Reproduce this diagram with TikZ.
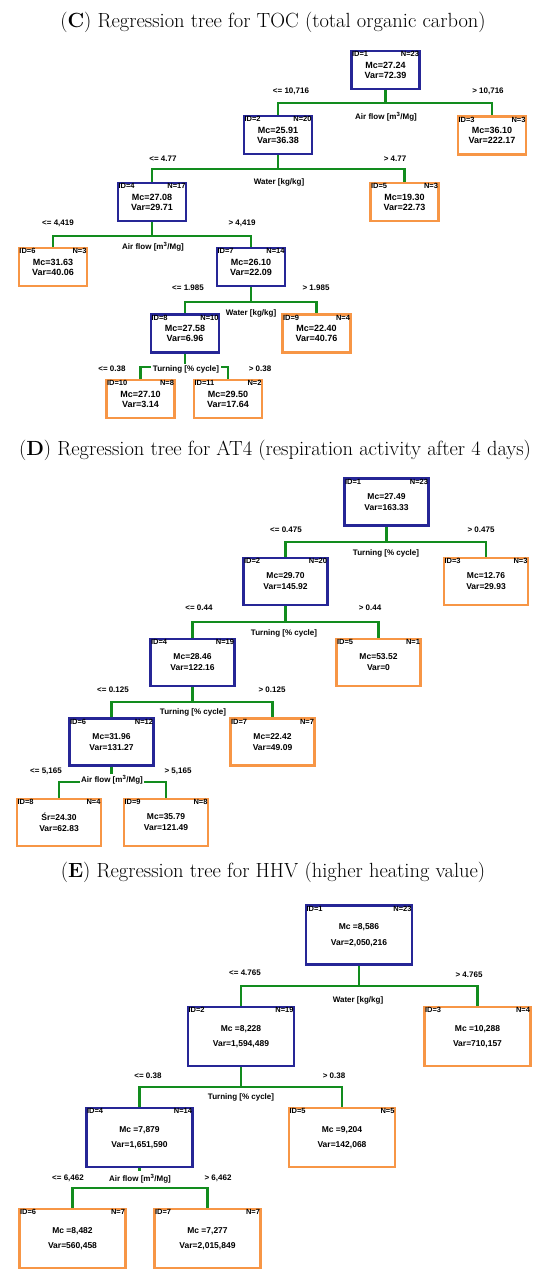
\documentclass[tikz,border=0pt]{standalone}
\usepackage{fontspec}
\setsansfont{Liberation Sans}
\usepackage{xcolor}
\usepackage{tikz}

\definecolor{treeblue}{RGB}{38,38,150}
\definecolor{treeorange}{RGB}{247,150,70}
\definecolor{treegreen}{RGB}{18,140,30}

\begin{document}
\begin{tikzpicture}[
                x=1pt, y=-1pt,
                innerbox/.style={rectangle, draw=treeblue, line width=2.2pt, fill=white, align=center, inner sep=0pt},
                leafbox/.style={innerbox, draw=treeorange},
                ctree/.style={minimum width=68pt, minimum height=38pt, font=\sffamily\bfseries\fontsize{9}{10}\selectfont, execute at begin node={\rule{0pt}{16pt}}},
                dtree/.style={minimum width=84pt, minimum height=47pt, font=\sffamily\bfseries\fontsize{8.5}{11}\selectfont, execute at begin node={\rule{0pt}{17pt}}},
                etree/.style={minimum width=106pt, minimum height=59pt, font=\sffamily\bfseries\fontsize{8.5}{15.5}\selectfont, execute at begin node={\rule{0pt}{22pt}}},
                idlab/.style={inner sep=1.4pt, font=\sffamily\bfseries\fontsize{7.5}{8}\selectfont},
                idn/.style 2 args={label={[idlab, anchor=north west]north west:ID=#1}, label={[idlab, anchor=north east]north east:N=#2}},
                branch/.style={draw=treegreen, line width=2.2pt},
                cutlab/.style={inner sep=1pt, font=\sffamily\bfseries\fontsize{8}{9}\selectfont},
                featlab/.style={cutlab, fill=white, inner sep=1.5pt},
                headline/.style={anchor=base, font=\fontsize{20.5}{22}\selectfont}
                ]
                \useasboundingbox (0,0) rectangle (550,1284);

                % Titles
                \node[headline] (tc) at (273,28) {(\textbf{C}) Regression tree for TOC (total organic carbon)};
                \node[headline] (td) at (275,455) {(\textbf{D}) Regression tree for AT4 (respiration activity after 4 days)};
                \node[headline] (te) at (273,877) {(\textbf{E}) Regression tree for HHV (higher heating value)};

                % Tree C - nodes
                \node[innerbox, ctree, idn={1}{23}] (c1) at (385.5,70) {Mc=27.24\\Var=72.39};
                \node[innerbox, ctree, idn={2}{20}] (c2) at (278,135) {Mc=25.91\\Var=36.38};
                \node[leafbox, ctree, idn={3}{3}] (c3) at (492,135.5) {Mc=36.10\\Var=222.17};
                \node[innerbox, ctree, idn={4}{17}] (c4) at (152,202) {Mc=27.08\\Var=29.71};
                \node[leafbox, ctree, idn={5}{3}] (c5) at (404.5,202) {Mc=19.30\\Var=22.73};
                \node[leafbox, ctree, idn={6}{3}] (c6) at (53,267) {Mc=31.63\\Var=40.06};
                \node[innerbox, ctree, idn={7}{14}] (c7) at (251,267) {Mc=26.10\\Var=22.09};
                \node[innerbox, ctree, idn={8}{10}] (c8) at (185,333.5) {Mc=27.58\\Var=6.96};
                \node[leafbox, ctree, idn={9}{4}] (c9) at (316.5,333.5) {Mc=22.40\\Var=40.76};
                \node[leafbox, ctree, idn={10}{8}] (c10) at (140.5,399) {Mc=27.10\\Var=3.14};
                \node[leafbox, ctree, idn={11}{2}] (c11) at (228,399) {Mc=29.50\\Var=17.64};

                % Tree C - splits
                \coordinate (c1s) at (385.5,103);
                \coordinate (c2s) at (278,169);
                \coordinate (c4s) at (152,236);
                \coordinate (c7s) at (251,302);
                \coordinate (c8s) at (185,367);
                \draw[branch] (c1) -- (c1s);
                \draw[branch] (c2) |- (c1s) -| (c3);
                \draw[branch] (c2) -- (c2s);
                \draw[branch] (c4) |- (c2s) -| (c5);
                \draw[branch] (c4) -- (c4s);
                \draw[branch] (c6) |- (c4s) -| (c7);
                \draw[branch] (c7) -- (c7s);
                \draw[branch] (c8) |- (c7s) -| (c9);
                \draw[branch] (c8) -- (c8s);
                \draw[branch] (c10) |- (c8s) -| (c11);

                \node[cutlab] (c1l) at (291,91) {<= 10,716};
                \node[cutlab] (c1r) at (488,91) {> 10,716};
                \node[featlab] (c1f) at (386,117) {Air flow [m\textsuperscript{3}/Mg]};
                \node[cutlab] (c2l) at (163,159) {<= 4.77};
                \node[cutlab] (c2r) at (395,159) {> 4.77};
                \node[featlab] (c2f) at (279,182) {Water [kg/kg]};
                \node[cutlab] (c4l) at (58,223) {<= 4,419};
                \node[cutlab] (c4r) at (242,223) {> 4,419};
                \node[featlab] (c4f) at (153,247) {Air flow [m\textsuperscript{3}/Mg]};
                \node[cutlab] (c7l) at (188,288) {<= 1.985};
                \node[cutlab] (c7r) at (316,288) {> 1.985};
                \node[featlab] (c7f) at (251,313) {Water [kg/kg]};
                \node[cutlab] (c8l) at (112,369) {<= 0.38};
                \node[cutlab] (c8r) at (260,369) {> 0.38};
                \node[featlab] (c8f) at (186,369) {Turning [\% cycle]};

                % Tree D - nodes
                \node[innerbox, dtree, idn={1}{23}] (d1) at (386.5,502) {Mc=27.49\\Var=163.33};
                \node[innerbox, dtree, idn={2}{20}] (d2) at (285.5,581.5) {Mc=29.70\\Var=145.92};
                \node[leafbox, dtree, idn={3}{3}] (d3) at (486,581.5) {Mc=12.76\\Var=29.93};
                \node[innerbox, dtree, idn={4}{19}] (d4) at (192.5,662.5) {Mc=28.46\\Var=122.16};
                \node[leafbox, dtree, idn={5}{1}] (d5) at (378.5,662.5) {Mc=53.52\\Var=0};
                \node[innerbox, dtree, idn={6}{12}] (d6) at (111.5,742) {Mc=31.96\\Var=131.27};
                \node[leafbox, dtree, idn={7}{7}] (d7) at (272.5,742) {Mc=22.42\\Var=49.09};
                \node[leafbox, dtree, idn={8}{4}] (d8) at (59,822.5) {Śr=24.30\\Var=62.83};
                \node[leafbox, dtree, idn={9}{8}] (d9) at (166,822.5) {Mc=35.79\\Var=121.49};

                % Tree D - splits
                \coordinate (d1s) at (386.5,542);
                \coordinate (d2s) at (285.5,622);
                \coordinate (d4s) at (192.5,702);
                \coordinate (d6s) at (111.5,782);
                \draw[branch] (d1) -- (d1s);
                \draw[branch] (d2) |- (d1s) -| (d3);
                \draw[branch] (d2) -- (d2s);
                \draw[branch] (d4) |- (d2s) -| (d5);
                \draw[branch] (d4) -- (d4s);
                \draw[branch] (d6) |- (d4s) -| (d7);
                \draw[branch] (d6) -- (d6s);
                \draw[branch] (d8) |- (d6s) -| (d9);

                \node[cutlab] (d1l) at (286,530) {<= 0.475};
                \node[cutlab] (d1r) at (481,530) {> 0.475};
                \node[featlab] (d1f) at (386,553) {Turning [\% cycle]};
                \node[cutlab] (d2l) at (199,608) {<= 0.44};
                \node[cutlab] (d2r) at (370,608) {> 0.44};
                \node[featlab] (d2f) at (284,633) {Turning [\% cycle]};
                \node[cutlab] (d4l) at (113,690) {<= 0.125};
                \node[cutlab] (d4r) at (272,690) {> 0.125};
                \node[featlab] (d4f) at (193,712) {Turning [\% cycle]};
                \node[cutlab] (d6l) at (46,771) {<= 5,165};
                \node[cutlab] (d6r) at (178,771) {> 5,165};
                \node[featlab] (d6f) at (112,780) {Air flow [m\textsuperscript{3}/Mg]};

                % Tree E - nodes
                \node[innerbox, etree, idn={1}{23}] (e1) at (359,935) {Mc =8,586\\Var=2,050,216};
                \node[innerbox, etree, idn={2}{19}] (e2) at (241,1036.5) {Mc =8,228\\Var=1,594,489};
                \node[leafbox, etree, idn={3}{4}] (e3) at (477.5,1036.5) {Mc =10,288\\Var=710,157};
                \node[innerbox, etree, idn={4}{14}] (e4) at (139.5,1137.5) {Mc =7,879\\Var=1,651,590};
                \node[leafbox, etree, idn={5}{5}] (e5) at (342,1137.5) {Mc =9,204\\Var=142,068};
                \node[leafbox, etree, idn={6}{7}] (e6) at (72.5,1238.5) {Mc =8,482\\Var=560,458};
                \node[leafbox, etree, idn={7}{7}] (e7) at (207.5,1238.5) {Mc =7,277\\Var=2,015,849};

                % Tree E - splits
                \coordinate (e1s) at (359,986);
                \coordinate (e2s) at (241,1087);
                \coordinate (e4s) at (139.5,1188);
                \draw[branch] (e1) -- (e1s);
                \draw[branch] (e2) |- (e1s) -| (e3);
                \draw[branch] (e2) -- (e2s);
                \draw[branch] (e4) |- (e2s) -| (e5);
                \draw[branch] (e4) -- (e4s);
                \draw[branch] (e6) |- (e4s) -| (e7);

                \node[cutlab] (e1l) at (245,973) {<= 4.765};
                \node[cutlab] (e1r) at (469,975) {> 4.765};
                \node[featlab] (e1f) at (358,1000) {Water [kg/kg]};
                \node[cutlab] (e2l) at (148,1076) {<= 0.38};
                \node[cutlab] (e2r) at (334,1076) {> 0.38};
                \node[featlab] (e2f) at (241,1097) {Turning [\% cycle]};
                \node[cutlab] (e4l) at (68,1178) {<= 6,462};
                \node[cutlab] (e4r) at (218,1178) {> 6,462};
                \node[featlab, inner ysep=4pt] (e4f) at (140,1179) {Air flow [m\textsuperscript{3}/Mg]};

\end{tikzpicture}
\end{document}
